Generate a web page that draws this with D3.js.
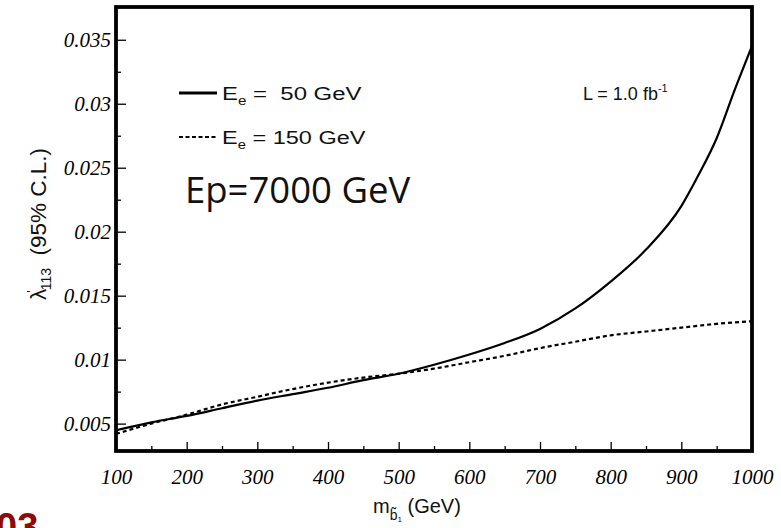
<!DOCTYPE html>
<html><head><meta charset="utf-8">
<script src="https://cdn.jsdelivr.net/npm/d3@7"></script>
<style>
html,body{margin:0;padding:0;background:#fff;}
svg{display:block;}
text{white-space:pre;}
</style></head>
<body>
<svg id="chart" width="781" height="528"></svg>
<script>
// ---- data ----
const massSolid = [100,150,200,250,300,350,400,450,500,550,600,650,700,750,800,850,900,925,950,975,1000];
const lambdaE50 = [0.00448,0.0051,0.0056,0.0062,0.0068,0.0073,0.0078,0.0084,0.0089,0.0096,0.0104,0.0113,0.0124,0.0140,0.0161,0.0186,0.0220,0.0245,0.0273,0.0310,0.0345];
const massDashed = [100,150,200,250,300,350,400,450,500,550,600,650,700,750,800,850,900,950,1000];
const lambdaE150 = [0.0042,0.0050,0.0057,0.0065,0.0071,0.0077,0.0082,0.0086,0.0089,0.0093,0.0098,0.0103,0.0109,0.0114,0.0119,0.0122,0.0125,0.0128,0.0130];
const xTickValues = [100,200,300,400,500,600,700,800,900,1000];
const xTickLabels = ["100","200","300","400","500","600","700","800","900","1000"];
const xMinorTicks = [150,250,350,450,550,650,750,850,950];
const yTickValues = [0.005,0.01,0.015,0.02,0.025,0.03,0.035];
const yTickLabels = ["0.005","0.01","0.015","0.02","0.025","0.03","0.035"];
const yMinorTicks = [0.0075,0.0125,0.0175,0.0225,0.0275,0.0325];

const svg = d3.select("#chart");
const L = 116, R = 752, T = 7, B = 451;
const x = d3.scaleLinear().domain([100,1000]).range([L,R]);
const y = d3.scaleLinear().domain([0.00286,0.03756]).range([B,T]);

// axes with inward ticks
const tickFont = "'Liberation Serif','Times New Roman',serif";
const gx = svg.append("g").attr("transform",`translate(0,${B})`)
  .call(d3.axisBottom(x).tickValues(xTickValues).tickFormat((d,i)=>xTickLabels[i]).tickSizeInner(-9).tickSizeOuter(0).tickPadding(18));
const gxm = svg.append("g").attr("transform",`translate(0,${B})`)
  .call(d3.axisBottom(x).tickValues(xMinorTicks).tickFormat("").tickSizeInner(-5).tickSizeOuter(0));
const gy = svg.append("g").attr("transform",`translate(${L},0)`)
  .call(d3.axisLeft(y).tickValues(yTickValues).tickFormat((d,i)=>yTickLabels[i]).tickSizeInner(-10).tickSizeOuter(0).tickPadding(5));
const gym = svg.append("g").attr("transform",`translate(${L},0)`)
  .call(d3.axisLeft(y).tickValues(yMinorTicks).tickFormat("").tickSizeInner(-5).tickSizeOuter(0));
[gx,gxm,gy,gym].forEach(g=>{
  g.select(".domain").remove();
  g.selectAll("line").attr("stroke","#000").attr("stroke-width",1.3);
  g.selectAll("text").attr("font-family",tickFont).attr("font-style","italic").attr("font-size",21).attr("fill","#000");
});

// curves
svg.append("clipPath").attr("id","plotclip").append("rect")
  .attr("x",L).attr("y",T).attr("width",R-L).attr("height",B-T);
const line = d3.line().x(d=>x(d[0])).y(d=>y(d[1])).curve(d3.curveMonotoneX);
svg.append("path").datum(massSolid.map((m,i)=>[m,lambdaE50[i]]))
  .attr("d",line).attr("fill","none").attr("stroke","#000").attr("stroke-width",2.2).attr("clip-path","url(#plotclip)");
svg.append("path").datum(massDashed.map((m,i)=>[m,lambdaE150[i]]))
  .attr("d",line).attr("fill","none").attr("stroke","#000").attr("stroke-width",2.2).attr("stroke-dasharray","4,3").attr("clip-path","url(#plotclip)");

// frame
svg.append("rect").attr("x",L).attr("y",T).attr("width",R-L).attr("height",B-T)
  .attr("fill","none").attr("stroke","#000").attr("stroke-width",3.8);

const sans = "'Liberation Sans',Arial,Helvetica,sans-serif";
// legend
svg.append("line").attr("x1",179).attr("x2",217).attr("y1",93).attr("y2",93).attr("stroke","#000").attr("stroke-width",3);
svg.append("line").attr("x1",179).attr("x2",217).attr("y1",137).attr("y2",137).attr("stroke","#000").attr("stroke-width",2.2).attr("stroke-dasharray","4,2.5");
function fitText(t, x0, yb, target){
  const w = t.node().getBBox().width;
  t.attr("transform",`translate(${x0},${yb}) scale(${target/w},1)`);
}
function legText(yb, rest, target){
  const t = svg.append("text").attr("x",0).attr("y",0).attr("font-family",sans).attr("font-size",19).attr("fill","#111");
  t.append("tspan").text("E");
  t.append("tspan").attr("font-size",12).attr("dy",5).text("e");
  t.append("tspan").attr("dy",-5).text(rest);
  fitText(t, 222, yb, target);
}
legText(100, " =  50 GeV", 140);
legText(143.5, " = 150 GeV", 144);

// L label
const lt = svg.append("text").attr("x",583).attr("y",100).attr("font-family",sans).attr("font-size",18).attr("fill","#111");
lt.append("tspan").text("L = 1.0 fb");
lt.append("tspan").attr("font-size",11).attr("dy",-8).text("-1");

// Ep text
svg.append("text").attr("x",185).attr("y",202.5).attr("font-family","'Open Sans',sans-serif").attr("font-size",36.5)
  .attr("fill","#111").text("Ep=7000 GeV");

// x label
const xl = svg.append("text").attr("x",373).attr("y",513).attr("font-family",sans).attr("font-size",20).attr("fill","#111");
xl.append("tspan").text("m");
xl.append("tspan").attr("font-size",14).attr("dy",7).text("b\u0303");
xl.append("tspan").attr("font-size",8).attr("dy",2).text("1");
xl.append("tspan").attr("dy",-9).text(" (GeV)");

// y label
const yl = svg.append("text").attr("transform","translate(46,224) rotate(-90)").attr("text-anchor","middle")
  .attr("font-family",sans).attr("font-size",22.5).attr("fill","#111");
yl.append("tspan").text("\u03bb");
yl.append("tspan").attr("font-size",13).attr("dy",-10).attr("dx",-4).text("'");
yl.append("tspan").attr("font-size",14).attr("dy",15).text("113");
yl.append("tspan").attr("dy",-5).text("  (95% C.L.)");

// clipped red text at bottom-left (cut by the picture edge, as in the reference)
svg.append("text").attr("x",-4).attr("y",540).attr("font-family",sans).attr("font-weight","bold")
  .attr("font-size",38).attr("fill","#8b0a0a").text("03");
</script>
</body></html>
